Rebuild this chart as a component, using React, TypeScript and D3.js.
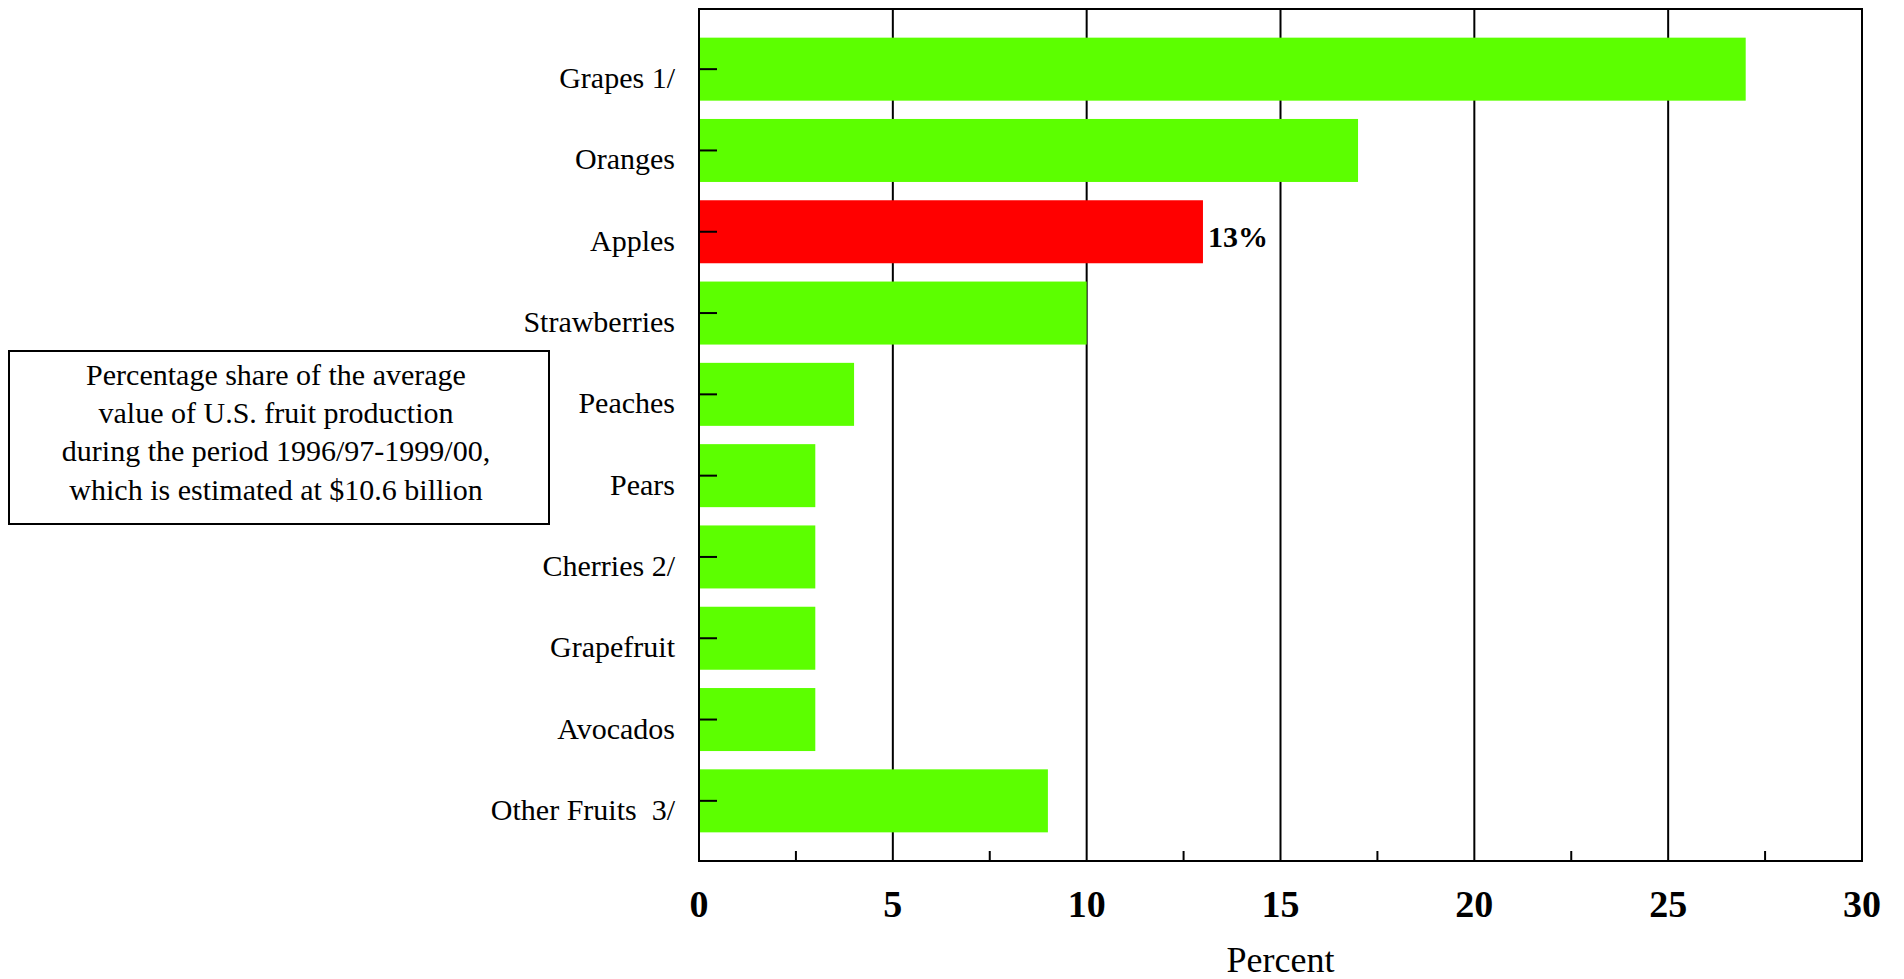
import React, { useEffect, useRef } from "react";
import * as d3 from "d3";

// Share of the average value of U.S. fruit production, 1996/97-1999/00
const categories = [
  "Grapes 1/",
  "Oranges",
  "Apples",
  "Strawberries",
  "Peaches",
  "Pears",
  "Cherries 2/",
  "Grapefruit",
  "Avocados",
  "Other Fruits  3/",
];
const shares = [27, 17, 13, 10, 4, 3, 3, 3, 3, 9];
const highlighted = "Apples";
const xTicks = [0, 5, 10, 15, 20, 25, 30];
const xMinorTicks = [2.5, 7.5, 12.5, 17.5, 22.5, 27.5];
const noteLines = [
  "Percentage share of the average",
  "value of U.S. fruit production",
  "during the period 1996/97-1999/00,",
  "which is estimated at $10.6 billion",
];

const W = 1904;
const H = 979;
const FONT = "'Liberation Serif', 'Times New Roman', serif";
const GREEN = "#5cff00";
const RED = "#ff0000";

export default function App() {
  const ref = useRef<SVGSVGElement | null>(null);

  useEffect(() => {
    const svg = d3.select(ref.current);
    svg.selectAll("*").remove();

    const left = 699;
    const right = 1862;
    const top = 9;
    const bottom = 861;

    const x = d3.scaleLinear().domain([0, 30]).range([left, right]);
    const y = d3
      .scaleBand<string>()
      .domain(categories)
      .range([top, bottom])
      .paddingInner(0.225)
      .paddingOuter(0.3525);

    const g = svg.append("g");

    // vertical gridlines
    g.selectAll("line.grid")
      .data(xTicks.filter((t) => t > 0 && t < 30))
      .join("line")
      .attr("class", "grid")
      .attr("x1", (d) => x(d))
      .attr("x2", (d) => x(d))
      .attr("y1", top)
      .attr("y2", bottom)
      .attr("stroke", "#000")
      .attr("stroke-width", 2);

    // bars
    const rows = categories.map((c, i) => ({ c, v: shares[i] }));
    g.selectAll("rect.bar")
      .data(rows)
      .join("rect")
      .attr("class", "bar")
      .attr("x", x(0))
      .attr("y", (d) => y(d.c)!)
      .attr("width", (d) => x(d.v) - x(0))
      .attr("height", y.bandwidth())
      .attr("fill", (d) => (d.c === highlighted ? RED : GREEN));

    // frame
    g.append("rect")
      .attr("x", left)
      .attr("y", top)
      .attr("width", right - left)
      .attr("height", bottom - top)
      .attr("fill", "none")
      .attr("stroke", "#000")
      .attr("stroke-width", 2);

    // category ticks (pointing inward)
    g.selectAll("line.ytick")
      .data(categories)
      .join("line")
      .attr("class", "ytick")
      .attr("x1", left)
      .attr("x2", left + 18)
      .attr("y1", (d) => y(d)! + y.bandwidth() / 2)
      .attr("y2", (d) => y(d)! + y.bandwidth() / 2)
      .attr("stroke", "#000")
      .attr("stroke-width", 2);

    // minor ticks on the x axis
    g.selectAll("line.xminor")
      .data(xMinorTicks)
      .join("line")
      .attr("class", "xminor")
      .attr("x1", (d) => x(d))
      .attr("x2", (d) => x(d))
      .attr("y1", bottom)
      .attr("y2", bottom - 10)
      .attr("stroke", "#000")
      .attr("stroke-width", 2);

    // category labels
    g.selectAll("text.ylab")
      .data(categories)
      .join("text")
      .attr("class", "ylab")
      .attr("x", 675)
      .attr("y", (d) => y(d)! + y.bandwidth() / 2 + 19)
      .attr("text-anchor", "end")
      .attr("font-family", FONT)
      .attr("font-size", 30)
      .attr("fill", "#000")
      .style("white-space", "pre")
      .text((d) => d);

    // x tick labels
    g.selectAll("text.xlab")
      .data(xTicks)
      .join("text")
      .attr("class", "xlab")
      .attr("x", (d) => x(d))
      .attr("y", 917)
      .attr("text-anchor", "middle")
      .attr("font-family", FONT)
      .attr("font-weight", "bold")
      .attr("font-size", 38)
      .attr("fill", "#000")
      .text((d) => d);

    // axis title
    g.append("text")
      .attr("x", (left + right) / 2)
      .attr("y", 972)
      .attr("text-anchor", "middle")
      .attr("font-family", FONT)
      .attr("font-size", 36)
      .attr("fill", "#000")
      .text("Percent");

    // value label on the highlighted bar
    const hi = rows.find((r) => r.c === highlighted)!;
    g.append("text")
      .attr("x", x(hi.v) + 5)
      .attr("y", y(hi.c)! + y.bandwidth() / 2 + 15)
      .attr("font-family", FONT)
      .attr("font-weight", "bold")
      .attr("font-size", 30)
      .attr("fill", "#000")
      .text(`${hi.v}%`);

    // note box
    g.append("rect")
      .attr("x", 9)
      .attr("y", 351)
      .attr("width", 540)
      .attr("height", 173)
      .attr("fill", "#fff")
      .attr("stroke", "#000")
      .attr("stroke-width", 2);

    g.selectAll("text.note")
      .data(noteLines)
      .join("text")
      .attr("class", "note")
      .attr("x", 276)
      .attr("y", (_, i) => 385 + i * 38.2)
      .attr("text-anchor", "middle")
      .attr("font-family", FONT)
      .attr("font-size", 30)
      .attr("fill", "#000")
      .text((d) => d);
  }, []);

  return (
    <svg
      ref={ref}
      width={W}
      height={H}
      style={{ position: "absolute", left: 0, top: 0, background: "#fff" }}
    />
  );
}
